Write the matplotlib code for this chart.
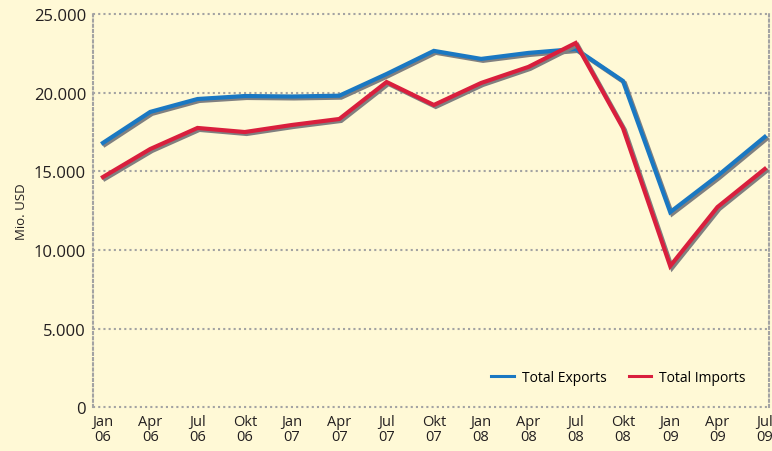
import matplotlib
matplotlib.use("Agg")
import matplotlib.pyplot as plt
import matplotlib.patheffects as pe
from matplotlib.lines import Line2D

labels = ["Jan\n06", "Apr\n06", "Jul\n06", "Okt\n06", "Jan\n07", "Apr\n07", "Jul\n07", "Okt\n07",
          "Jan\n08", "Apr\n08", "Jul\n08", "Okt\n08", "Jan\n09", "Apr\n09", "Jul\n09"]
exports = [16800, 18770, 19590, 19780, 19750, 19800, 21180, 22650,
           22140, 22520, 22770, 20740, 12400, 14700, 17180]
imports = [14630, 16410, 17750, 17490, 17940, 18320, 20670, 19210,
           20610, 21630, 23150, 17750, 8970, 12720, 15140]
yticks = [0, 5000, 10000, 15000, 20000, 25000]
ytick_labels = ["0", "5.000", "10.000", "15.000", "20.000", "25.000"]

bg = "#fff9d6"
blue = "#1a78c2"
red = "#d91f3d"
plt.rcParams["font.family"] = ["Open Sans", "DejaVu Sans"]

fig = plt.figure(figsize=(7.72, 4.52), dpi=100, facecolor=bg)
ax = fig.add_axes([0.1205, 0.097, 0.875, 0.87], facecolor=bg)

x = list(range(len(labels)))
shadow = [pe.SimpleLineShadow(offset=(1.4, -1.4), shadow_color="#808080", alpha=1.0),
          pe.Normal()]
ax.plot(x, exports, color=blue, lw=3, path_effects=shadow,
        solid_joinstyle="miter", zorder=3)
ax.plot(x, imports, color=red, lw=3, path_effects=shadow,
        solid_joinstyle="miter", zorder=4)

ax.set_xlim(-0.21, 14.08)
ax.set_ylim(0, 25000)
ax.set_yticks(yticks)
ax.set_yticklabels(ytick_labels, fontsize=12, color="#231f20")
ax.set_xticks(x)
ax.set_xticklabels(labels, fontsize=10.5, color="#231f20", linespacing=0.95)
ax.tick_params(length=0)
ax.tick_params(axis="y", pad=5)
ax.tick_params(axis="x", pad=5)

for yv in yticks:
    ax.axhline(yv, color="#a3a3a3", lw=1.5, ls=(0, (1, 1.5)), zorder=1, clip_on=False)
for side in ["top", "bottom"]:
    ax.spines[side].set_visible(False)
for side in ["left", "right"]:
    ax.spines[side].set_color("#a3a3a3")
    ax.spines[side].set_linewidth(1.5)
    ax.spines[side].set_linestyle((0, (1, 1.5)))

ax.set_ylabel("Mio. USD", fontsize=9.5, color="#231f20", labelpad=4)

handles = [Line2D([], [], color=blue, lw=2.2), Line2D([], [], color=red, lw=2.2)]
ax.legend(handles, ["Total Exports", "Total Imports"], loc="lower right", ncol=2,
          frameon=False, fontsize=10, handlelength=1.6, handletextpad=0.6,
          columnspacing=1.6, bbox_to_anchor=(0.985, 0.025))

fig.savefig("out.png", dpi=100, facecolor=bg)
